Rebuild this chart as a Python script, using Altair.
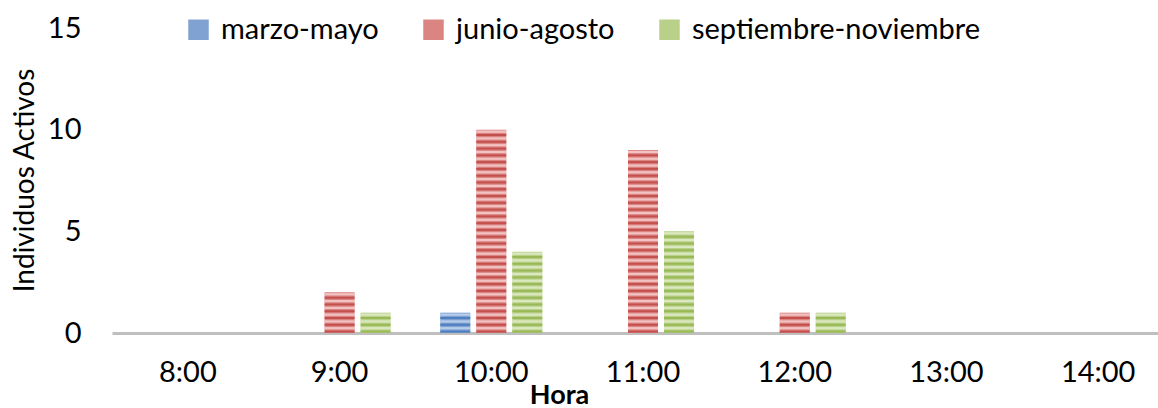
import altair as alt
import pandas as pd

# Activity counts per hour for each season
hours = ["8:00", "9:00", "10:00", "11:00", "12:00", "13:00", "14:00"]
seasons = ["marzo-mayo", "junio-agosto", "septiembre-noviembre"]
marzo_mayo = [0, 0, 1, 0, 0, 0, 0]
junio_agosto = [0, 2, 10, 9, 1, 0, 0]
septiembre_noviembre = [0, 1, 4, 5, 1, 0, 0]

mid_colors = ["#7FA2D2", "#DB8583", "#B9D089"]
dark_colors = ["#4F7FBF", "#C4504E", "#98B956"]
light_colors = ["#B8CEEB", "#F2C3C2", "#DBE9C0"]

rows = []
for season, values in zip(seasons, [marzo_mayo, junio_agosto, septiembre_noviembre]):
    for hour, v in zip(hours, values):
        rows.append({"hora": hour, "temporada": season, "valor": v})
bars = pd.DataFrame(rows)

# Horizontal stripe bands inside every bar (three per unit of value)
stripe_rows = []
for r in rows:
    n = int(round(r["valor"] * 3))
    for k in range(n):
        base = k / 3
        stripe_rows.append({"hora": r["hora"], "temporada": r["temporada"],
                            "d0": base + 0.02, "d1": base + 0.12,
                            "l0": base + 0.18, "l1": base + 0.29})
stripes = pd.DataFrame(stripe_rows)

FONT = "Lato"
FS = 29

x_enc = alt.X("hora:N", sort=hours,
              scale=alt.Scale(domain=hours, range=[0, 1062], paddingInner=0, paddingOuter=0),
              axis=alt.Axis(title="Hora", labelAngle=0, labelFontSize=FS, labelFont=FONT,
                            labelColor="#000000", labelPadding=25, ticks=False,
                            domainColor="#BFBFBF", domainWidth=3,
                            titleFont=FONT, titleFontSize=27, titleFontWeight="bold",
                            titleColor="#000000", titleX=447, titleY=70,
                            titleBaseline="alphabetic", titleAlign="center",
                            titleAnchor="start"))
xo_enc = alt.XOffset("temporada:N", sort=seasons,
                     scale=alt.Scale(domain=seasons, paddingInner=1 / 6, paddingOuter=0.69))

y_scale = alt.Scale(domain=[0, 15])

base_bars = alt.Chart(bars).mark_bar().encode(
    x=x_enc,
    xOffset=xo_enc,
    y=alt.Y("valor:Q", scale=y_scale,
            axis=alt.Axis(title="Individuos Activos", values=[0, 5, 10, 15], grid=False,
                          domain=False, ticks=False, labelFontSize=FS, labelFont=FONT,
                          labelColor="#000000", labelPadding=31, labelFlush=False,
                          titleFont=FONT, titleFontSize=28, titleFontWeight="normal",
                          titleColor="#000000", titleX=-79, titleY=152,
                          titleAngle=-90, titleBaseline="alphabetic", titleAlign="center",
                          titleAnchor="start")),
    color=alt.Color("temporada:N", sort=seasons,
                    scale=alt.Scale(domain=seasons, range=mid_colors),
                    legend=alt.Legend(title=None, orient="none", direction="horizontal",
                                      legendX=72, legendY=-13, symbolType="square",
                                      symbolSize=420, symbolStrokeWidth=0,
                                      labelFont=FONT, labelFontSize=FS, labelLimit=0,
                                      labelColor="#000000", labelOffset=8,
                                      columnPadding=40, padding=0)),
)

dark = alt.Chart(stripes).mark_bar().encode(
    x=alt.X("hora:N", sort=hours),
    xOffset=alt.XOffset("temporada:N", sort=seasons),
    y=alt.Y("d0:Q", scale=y_scale),
    y2="d1:Q",
    color=alt.Color("temporada:N", sort=seasons,
                    scale=alt.Scale(domain=seasons, range=dark_colors), legend=None),
)

light = alt.Chart(stripes).mark_bar().encode(
    x=alt.X("hora:N", sort=hours),
    xOffset=alt.XOffset("temporada:N", sort=seasons),
    y=alt.Y("l0:Q", scale=y_scale),
    y2="l1:Q",
    color=alt.Color("temporada:N", sort=seasons,
                    scale=alt.Scale(domain=seasons, range=light_colors), legend=None),
)

chart = alt.layer(base_bars, dark, light).resolve_scale(color="independent").properties(
    width=1046,
    height=305,
    autosize=alt.AutoSizeParams(type="none"),
    padding={"left": 112, "top": 28, "right": 0, "bottom": 75},
    background="#FFFFFF",
).configure_view(strokeWidth=0)

chart.save("out.html", embed_options={"renderer": "svg", "actions": False})
